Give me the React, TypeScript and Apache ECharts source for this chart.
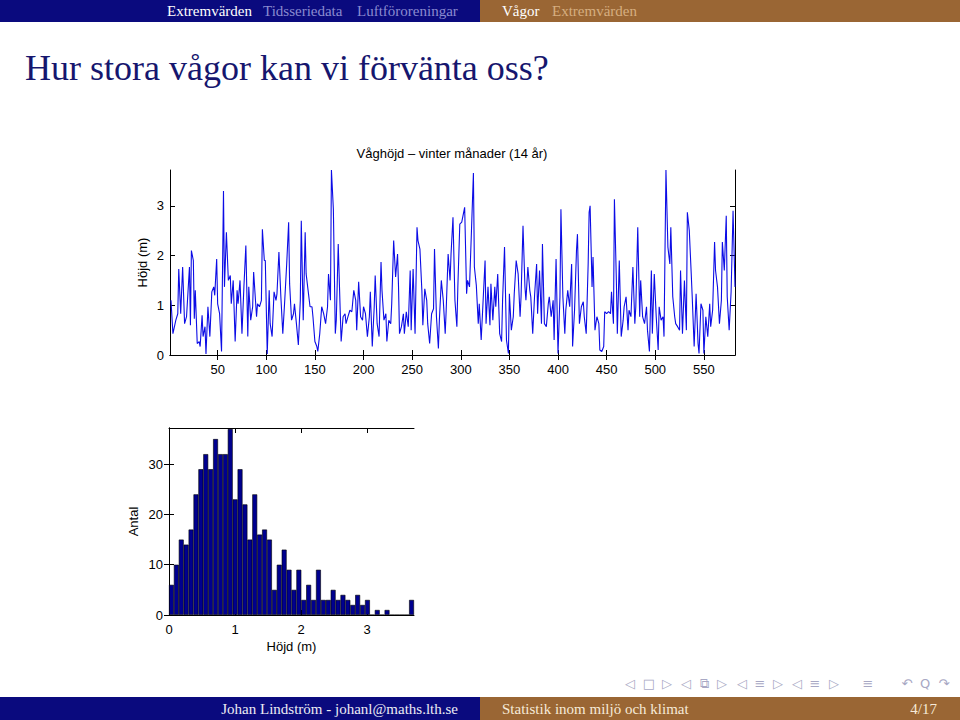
import React, { useEffect, useRef } from "react";
import * as echarts from "echarts";

// Wave height time series (time index, height in m)
const waveSamples: number[][] = [
  [2,1.10],[4,0.43],[7,0.70],[9,0.83],[10,1.73],[12,0.83],[14,1.77],[16,0.63],[18,0.77],[21,1.77],[22,0.60],[23,2.10],[25,1.90],[26,0.73],[27,1.30],[29,0.23],[31,0.27],[32,0.17],[34,0.80],[35,0.37],[37,0.57],[38,0.02],[40,0.97],[42,0.37],[44,1.27],[46,1.37],[47,1.20],[49,1.93],[50,1.03],[52,0.83],[54,0.07],[56,3.30],[57,1.37],[59,2.47],[61,1.50],[63,1.60],[64,1.03],[66,1.50],[68,0.27],[70,1.30],[71,1.03],[73,1.50],[75,0.43],[77,1.37],[79,2.20],[81,0.37],[82,1.37],[84,0.70],[86,0.97],[87,1.67],[90,0.77],[91,1.03],[93,0.97],[95,1.10],[96,2.53],[98,1.90],[99,1.90],[101,0.02],[103,1.30],[104,0.63],[106,0.37],[108,1.27],[110,1.10],[111,1.23],[113,2.07],[115,1.17],[117,0.43],[119,1.10],[121,1.83],[123,2.67],[124,1.43],[126,0.70],[128,0.83],[129,1.03],[131,0.63],[133,0.20],[135,1.10],[136,2.70],[138,0.70],[140,2.47],[141,1.63],[143,1.30],[145,0.97],[147,0.97],[148,0.77],[150,0.27],[152,0.17],[153,0.07],[155,0.43],[157,0.97],[159,0.83],[161,0.63],[163,0.97],[164,1.63],[166,1.10],[167,3.72],[169,2.93],[171,0.43],[172,0.70],[174,2.23],[176,0.90],[177,0.27],[179,0.77],[181,0.83],[182,0.63],[184,0.77],[186,0.90],[188,0.87],[190,1.30],[192,1.10],[193,0.50],[195,1.47],[197,0.77],[199,0.70],[200,0.97],[202,0.83],[204,0.37],[206,0.77],[207,1.27],[209,0.17],[211,0.97],[212,1.60],[214,0.63],[216,0.37],[218,1.87],[219,1.30],[221,0.70],[223,0.83],[224,0.27],[226,0.70],[228,0.63],[229,1.03],[231,2.30],[233,1.57],[235,2.03],[236,1.37],[237,0.43],[239,0.57],[241,0.83],[242,0.43],[244,0.87],[246,0.57],[248,1.70],[249,0.50],[251,1.73],[253,0.43],[255,2.57],[256,2.30],[258,2.13],[260,1.30],[261,0.60],[263,1.33],[265,1.10],[266,0.63],[268,0.23],[270,0.83],[272,0.93],[273,2.13],[275,0.77],[277,0.13],[278,0.70],[280,1.50],[282,1.10],[284,0.43],[285,0.90],[287,2.03],[289,1.50],[290,2.03],[292,2.77],[294,1.10],[296,0.57],[297,1.37],[299,2.63],
  [301,2.67],[304,2.97],[306,1.23],[307,1.50],[309,1.37],[311,2.50],[313,3.66],[314,1.77],[316,1.40],[318,0.63],[319,1.03],[321,0.30],[323,1.10],[325,1.90],[326,0.63],[328,1.37],[330,0.60],[331,1.43],[333,0.70],[335,1.37],[336,0.97],[338,1.63],[340,0.43],[342,0.27],[343,1.10],[345,2.17],[347,0.30],[349,0.03],[350,1.23],[352,0.50],[354,0.77],[355,1.23],[357,1.90],[359,1.63],[361,0.77],[362,1.17],[364,2.60],[366,1.37],[367,1.10],[369,1.77],[371,1.30],[372,1.17],[374,0.43],[376,1.23],[378,1.83],[379,0.83],[381,1.70],[383,0.63],[384,2.23],[386,0.63],[388,0.57],[390,1.03],[391,1.17],[393,0.77],[395,1.10],[396,0.30],[398,1.93],[400,0.03],[402,1.17],[403,2.93],[405,1.17],[407,0.43],[408,0.90],[410,1.30],[412,0.97],[414,1.83],[415,0.17],[417,0.90],[419,2.10],[420,2.43],[422,0.63],[424,0.97],[426,1.07],[427,0.77],[429,0.43],[431,1.83],[432,2.87],[433,3.00],[435,1.37],[436,1.97],[438,0.50],[440,0.77],[442,0.63],[443,0.10],[445,0.07],[447,0.17],[448,0.87],[450,0.83],[452,0.87],[454,0.83],[455,1.27],[457,0.63],[458,3.13],[460,1.50],[461,0.43],[463,1.90],[465,0.37],[467,0.70],[468,0.97],[470,1.17],[472,0.50],[473,0.90],[475,0.77],[477,1.77],[479,0.63],[480,0.97],[482,2.57],[484,0.77],[485,1.50],[487,0.77],[489,0.63],[491,0.97],[492,0.50],[494,0.07],[496,1.70],[497,0.43],[499,1.63],[501,0.77],[503,0.10],[504,0.97],[506,0.70],[508,0.77],[509,0.37],[511,3.72],[513,2.17],[515,1.83],[516,2.57],[518,1.17],[520,0.77],[521,0.63],[523,0.57],[525,0.50],[526,1.70],[528,0.43],[530,1.50],[532,0.50],[533,2.87],[535,2.50],[537,1.63],[538,1.17],[540,0.17],[542,1.23],[544,0.23],[545,0.03],[547,1.03],[549,0.90],[550,0.03],[552,0.77],[554,0.37],[556,1.03],[557,0.57],[559,0.90],[561,2.27],[562,1.70],[564,1.37],[566,0.63],[568,1.10],[569,2.27],[571,1.70],[573,2.80],[574,1.17],[576,0.50],[578,1.27],[580,2.90],[582,1.37]
];
const tsXTicks = [50, 100, 150, 200, 250, 300, 350, 400, 450, 500, 550];
const tsYTicks = [0, 1, 2, 3];

// Histogram: 50 bins over 0 .. 3.71 m
const histCounts = [6,10,15,14,17,24,29,32,29,35,32,32,37,23,29,22,15,24,16,17,15,5,10,13,9,5,9,3,6,3,9,3,3,5,3,4,3,2,4,2,3,0,1,0,1,0,0,0,0,3];
const histBins = histCounts.map((_, i) => String(i));
const histXTicks = [0, 1, 2, 3];
const histYTicks = [0, 10, 20, 30];

const headerLeft = ["Extremvärden", "Tidsseriedata", "Luftföroreningar"];
const headerRight = ["Vågor", "Extremvärden"];
const navGlyphs = ["◁", "□", "▷", "◁", "⧉", "▷", "◁", "≡", "▷", "◁", "≡", "▷", "≡", "↶", "Q", "↷"];
const navX = [630, 649, 667, 686, 704, 722, 742, 760, 778, 797, 815, 834, 868, 907, 925, 944];

const NAVY = "#0a0a7e";
const BROWN = "#9a6634";
const SANS = "Liberation Sans";
const SERIF = "Liberation Serif";

export default function App() {
  const ref = useRef<HTMLDivElement>(null);
  useEffect(() => {
    if (!ref.current) return;
    const chart = echarts.init(ref.current, null, { renderer: "svg" });
    const axisLine = { show: true, lineStyle: { color: "#000", width: 1 } };
    const tickStyle = { color: "#000", width: 1 };
    const lbl = { color: "#000", fontSize: 13, fontFamily: SANS };
    const option: any = {
      animation: false,
      backgroundColor: "#fff",
      textStyle: { fontFamily: SANS },
      grid: [
        { left: 170, top: 170, width: 565, height: 185, outerBoundsMode: "none" },
        { left: 169, top: 428, width: 245, height: 187, outerBoundsMode: "none" },
      ],
      xAxis: [
        {
          gridIndex: 0, type: "value", min: 1, max: 582, position: "bottom",
          axisLine, splitLine: { show: false },
          axisTick: { inside: true, length: 5, customValues: tsXTicks, lineStyle: tickStyle },
          axisLabel: { ...lbl, customValues: tsXTicks, margin: 8 },
        },
        {
          gridIndex: 0, type: "value", min: 1, max: 582, position: "top",
          axisLine, splitLine: { show: false },
          axisTick: { inside: true, length: 5, customValues: tsXTicks, lineStyle: tickStyle },
          axisLabel: { show: false },
        },
        {
          gridIndex: 1, type: "category", data: histBins, show: false, boundaryGap: true,
        },
        {
          gridIndex: 1, type: "value", min: 0, max: 3.71, position: "bottom",
          axisLine, splitLine: { show: false },
          axisTick: { inside: true, length: 5, customValues: histXTicks, lineStyle: tickStyle },
          axisLabel: { ...lbl, customValues: histXTicks, margin: 8 },
          name: "Höjd (m)", nameLocation: "middle", nameGap: 25, nameMoveOverlap: false,
          nameTextStyle: { ...lbl },
        },
        {
          gridIndex: 1, type: "value", min: 0, max: 3.71, position: "top",
          axisLine, splitLine: { show: false },
          axisTick: { inside: true, length: 5, customValues: histXTicks, lineStyle: tickStyle },
          axisLabel: { show: false },
        },
      ],
      yAxis: [
        {
          gridIndex: 0, type: "value", min: 0, max: 3.72, position: "left",
          axisLine, splitLine: { show: false },
          axisTick: { inside: true, length: 5, customValues: tsYTicks, lineStyle: tickStyle },
          axisLabel: { ...lbl, customValues: tsYTicks, margin: 6 },
          name: "Höjd (m)", nameLocation: "middle", nameGap: 21, nameRotate: 90, nameMoveOverlap: false,
          nameTextStyle: { ...lbl },
        },
        {
          gridIndex: 0, type: "value", min: 0, max: 3.72, position: "right",
          axisLine, splitLine: { show: false },
          axisTick: { inside: true, length: 5, customValues: tsYTicks, lineStyle: tickStyle },
          axisLabel: { show: false },
        },
        {
          gridIndex: 1, type: "value", min: 0, max: 37.2, position: "left",
          axisLine, splitLine: { show: false },
          axisTick: { inside: true, length: 5, customValues: histYTicks, lineStyle: tickStyle },
          axisLabel: { ...lbl, customValues: histYTicks, margin: 6 },
          name: "Antal", nameLocation: "middle", nameGap: 29, nameRotate: 90, nameMoveOverlap: false,
          nameTextStyle: { ...lbl },
        },
        {
          gridIndex: 1, type: "value", min: 0, max: 37.2, position: "right",
          axisLine, splitLine: { show: false },
          axisTick: { inside: true, length: 5, customValues: histYTicks, lineStyle: tickStyle },
          axisLabel: { show: false },
        },
      ],
      series: [
        {
          type: "line", xAxisIndex: 0, yAxisIndex: 0, data: waveSamples,
          showSymbol: false, symbol: "none",
          lineStyle: { color: "#0c0ce6", width: 1.1 },
        },
        {
          type: "bar", xAxisIndex: 2, yAxisIndex: 2, data: histCounts,
          barCategoryGap: "0%",
          itemStyle: { color: "#00008f", borderColor: "#000", borderWidth: 0.6 },
        },
      ],
      graphic: [
        { type: "rect", shape: { x: 0, y: 0, width: 480, height: 22 }, style: { fill: NAVY } },
        { type: "rect", shape: { x: 480, y: 0, width: 480, height: 22 }, style: { fill: BROWN } },
        { type: "text", x: 167, y: 11, style: { text: headerLeft[0], fill: "#ffffff", font: `15px '${SERIF}'`, verticalAlign: "middle" } },
        { type: "text", x: 263, y: 11, style: { text: headerLeft[1], fill: "#8a8ad0", font: `15px '${SERIF}'`, verticalAlign: "middle" } },
        { type: "text", x: 357, y: 11, style: { text: headerLeft[2], fill: "#8a8ad0", font: `15px '${SERIF}'`, verticalAlign: "middle" } },
        { type: "text", x: 502, y: 11, style: { text: headerRight[0], fill: "#ffffff", font: `15px '${SERIF}'`, verticalAlign: "middle" } },
        { type: "text", x: 552, y: 11, style: { text: headerRight[1], fill: "#d6ae80", font: `15px '${SERIF}'`, verticalAlign: "middle" } },
        { type: "text", x: 25, y: 68, style: { text: "Hur stora vågor kan vi förvänta oss?", fill: "#16166e", font: `36px '${SERIF}'`, verticalAlign: "middle" } },
        { type: "text", x: 452, y: 153, style: { text: "Våghöjd – vinter månader (14 år)", fill: "#000", font: `13px '${SANS}'`, align: "center", verticalAlign: "middle" } },
        ...navGlyphs.map((g, i) => ({
          type: "text", x: navX[i], y: 683,
          style: { text: g, fill: "#a8a8c4", font: "13px 'DejaVu Sans'", align: "center", verticalAlign: "middle" },
        })),
        { type: "rect", shape: { x: 0, y: 697, width: 480, height: 23 }, style: { fill: NAVY } },
        { type: "rect", shape: { x: 480, y: 697, width: 480, height: 23 }, style: { fill: BROWN } },
        { type: "text", x: 458, y: 708.5, style: { text: "Johan Lindström - johanl@maths.lth.se", fill: "#ececf4", font: `15px '${SERIF}'`, align: "right", verticalAlign: "middle" } },
        { type: "text", x: 502, y: 708.5, style: { text: "Statistik inom miljö och klimat", fill: "#f6ead8", font: `15px '${SERIF}'`, verticalAlign: "middle" } },
        { type: "text", x: 937, y: 708.5, style: { text: "4/17", fill: "#f6ead8", font: `15px '${SERIF}'`, align: "right", verticalAlign: "middle" } },
      ],
    };
    chart.setOption(option);
    return () => chart.dispose();
  }, []);
  return (
    <div
      ref={ref}
      style={{ position: "fixed", left: 0, top: 0, width: 960, height: 720, background: "#fff" }}
    />
  );
}
